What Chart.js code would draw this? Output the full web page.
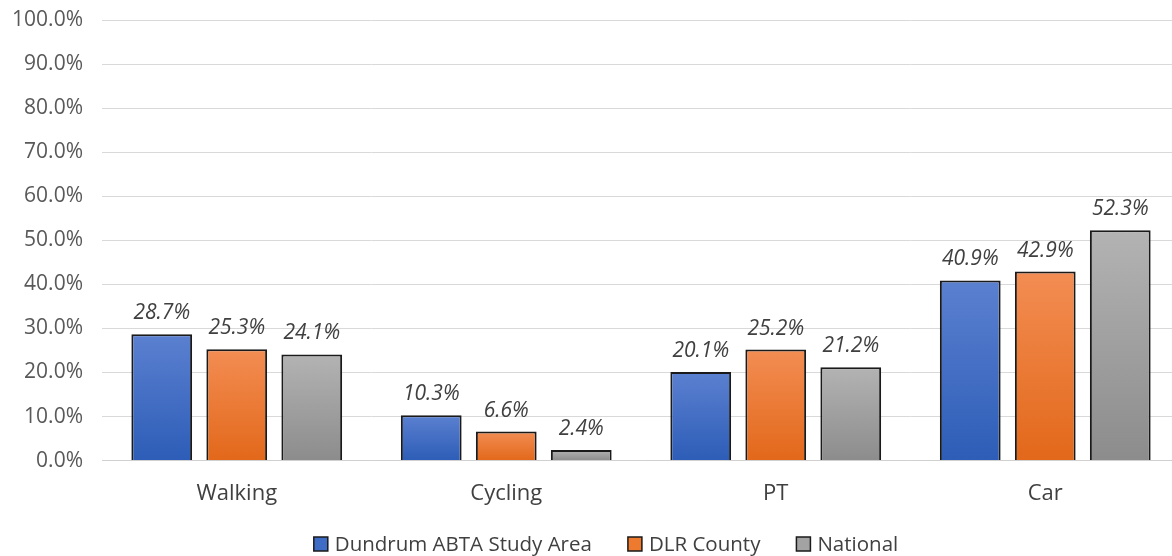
<!DOCTYPE html>
<html>
<head>
<meta charset="utf-8">
<script src="https://cdn.jsdelivr.net/npm/chart.js@4/dist/chart.umd.min.js"></script>
<style>
  html, body { margin: 0; padding: 0; background: #fff; overflow: hidden; }
  #wrap { width: 1180px; height: 556px; }
</style>
</head>
<body>
<div id="wrap"><canvas id="myChart"></canvas></div>
<script>
let labels = ['Walking', 'Cycling', 'PT', 'Car'];
let dundrum = [28.7, 10.3, 20.1, 40.9];
let dlr = [25.3, 6.6, 25.2, 42.9];
let national = [24.1, 2.4, 21.2, 52.3];
let seriesNames = ['Dundrum ABTA Study Area', 'DLR County', 'National'];
let yTicks = [0, 10, 20, 30, 40, 50, 60, 70, 80, 90, 100];

// top / bottom colour of each bar's gradient
let gradColors = [
  ['#5b80d0', '#2d5db7'],
  ['#f38d53', '#e2681a'],
  ['#b3b3b3', '#8c8c8c']
];
let legendColors = ['#3f6cc4', '#ee7a30', '#a3a3a3'];

function barFill(i) {
  return function(ctx) {
    let chart = ctx.chart;
    if (!chart.chartArea || ctx.type !== 'data') return gradColors[i][1];
    let y = chart.scales.y;
    let top = y.getPixelForValue(ctx.raw);
    let bottom = y.getPixelForValue(0);
    if (!isFinite(top) || top === bottom) return gradColors[i][1];
    let g = chart.ctx.createLinearGradient(0, top, 0, bottom);
    g.addColorStop(0, gradColors[i][0]);
    g.addColorStop(1, gradColors[i][1]);
    return g;
  };
}

// draw the value above each bar
let valueLabels = {
  id: 'valueLabels',
  afterDatasetsDraw(chart) {
    let ctx = chart.ctx;
    ctx.save();
    ctx.font = 'italic 21px "Open Sans"';
    ctx.fillStyle = '#404040';
    ctx.textAlign = 'center';
    ctx.textBaseline = 'middle';
    chart.data.datasets.forEach((ds, i) => {
      chart.getDatasetMeta(i).data.forEach((bar, j) => {
        ctx.fillText(ds.data[j].toFixed(1) + '%', bar.x, bar.y - 21);
      });
    });
    ctx.restore();
  }
};

// legend drawn by hand so the gaps match the original
let bottomLegend = {
  id: 'bottomLegend',
  afterDraw(chart) {
    let ctx = chart.ctx;
    ctx.save();
    ctx.font = '20.5px "Open Sans"';
    ctx.textBaseline = 'middle';
    let box = 14, gapText = 7, gapItem = 36;
    let widths = seriesNames.map(n => ctx.measureText(n).width);
    let total = widths.reduce((a, w) => a + box + gapText + w, 0) + gapItem * (seriesNames.length - 1);
    let x = 606 - total / 2;
    let y = 544;
    seriesNames.forEach((n, i) => {
      ctx.fillStyle = legendColors[i];
      ctx.fillRect(x, y - box / 2, box, box);
      ctx.strokeStyle = '#1a1a1a';
      ctx.lineWidth = 1.5;
      ctx.strokeRect(x, y - box / 2, box, box);
      ctx.fillStyle = '#404040';
      ctx.fillText(n, x + box + gapText, y + 1);
      x += box + gapText + widths[i] + gapItem;
    });
    ctx.restore();
  }
};

let chart = new Chart(document.getElementById('myChart').getContext('2d'), {
  type: 'bar',
  data: {
    labels: labels,
    datasets: [dundrum, dlr, national].map((d, i) => ({
      label: seriesNames[i],
      data: d,
      backgroundColor: barFill(i),
      borderColor: '#1a1a1a',
      borderWidth: 2,
      borderSkipped: 'bottom',
      categoryPercentage: 0.835,
      barPercentage: 0.81
    }))
  },
  options: {
    responsive: true,
    maintainAspectRatio: false,
    animation: false,
    layout: { padding: { top: 20, right: 0, left: 0, bottom: 29 } },
    plugins: {
      legend: { display: false },
      tooltip: { enabled: false }
    },
    scales: {
      x: {
        grid: { display: false, drawTicks: false },
        border: { color: '#d0d0d0', width: 1 },
        ticks: { font: { family: 'Open Sans', size: 22 }, color: '#404040', padding: 20 }
      },
      y: {
        min: 0,
        max: 100,
        afterFit(scale) {
          scale.width = 102;
          scale.paddingTop = 0;
          scale.paddingBottom = 0;
        },
        afterBuildTicks(scale) { scale.ticks = yTicks.map(v => ({ value: v })); },
        grid: { color: '#d9d9d9', lineWidth: 1, drawTicks: false },
        border: { display: false },
        ticks: {
          font: { family: 'Open Sans', size: 21 },
          color: '#595959',
          padding: 19,
          callback: v => v.toFixed(1) + '%'
        }
      }
    }
  },
  plugins: [valueLabels, bottomLegend]
});
</script>
</body>
</html>
